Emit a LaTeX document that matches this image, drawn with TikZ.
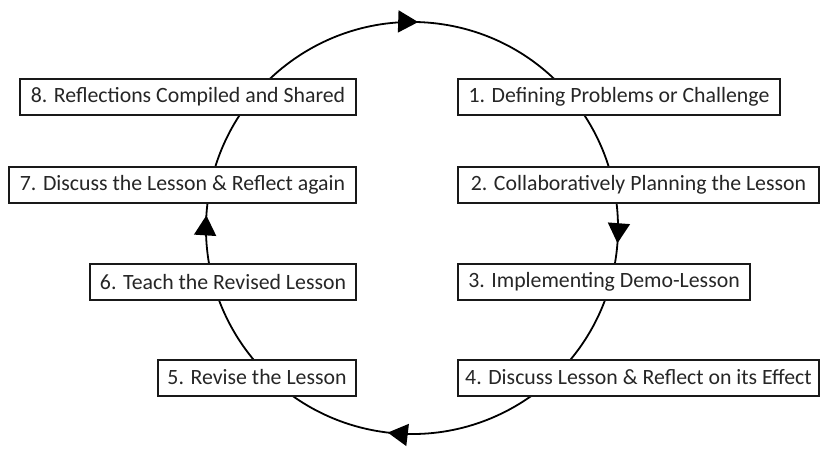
\documentclass[tikz,border=0pt]{standalone}
\usepackage{fontspec}
\setmainfont{Carlito}
\usetikzlibrary{arrows.meta,decorations.markings}
\begin{document}
\begin{tikzpicture}[x=1pt,y=1pt,
  stepbox/.style={draw=black!90,line width=2pt,fill=white,minimum height=36pt,inner sep=0pt,
    font=\fontsize{21.8}{24}\selectfont,text=black!85},
  cycle/.style={line width=1.8pt,black,
    postaction={decorate},
    decoration={markings,
      mark=at position 0.227 with {\arrow{Triangle[length=20pt,width=22pt]}},
      mark=at position 0.484 with {\arrow{Triangle[length=20pt,width=22pt]}},
      mark=at position 0.741 with {\arrow{Triangle[length=20pt,width=22pt]}},
      mark=at position 0.982 with {\arrow{Triangle[length=20pt,width=22pt]}}}}]
\useasboundingbox (0,0) rectangle (820,448);
\coordinate (c) at (412,220);
\draw[cycle] (c) ++(170:206) arc[start angle=170,end angle=-190,radius=206];
\node[stepbox,minimum width=336pt] (s8) at (188,351) {8. Reflections Compiled and Shared};
\node[stepbox,minimum width=347pt] (s7) at (182.5,263) {7. Discuss the Lesson \& Reflect again};
\node[stepbox,minimum width=266pt] (s6) at (223,166) {6. Teach the Revised Lesson};
\node[stepbox,minimum width=198pt] (s5) at (257,70.5) {5. Revise the Lesson};
\node[stepbox,minimum width=322pt] (s1) at (619,351) {1. Defining Problems or Challenge};
\node[stepbox,minimum width=361pt] (s2) at (638.5,263) {2. Collaboratively Planning the Lesson};
\node[stepbox,minimum width=292pt] (s3) at (604,166) {3. Implementing Demo-Lesson};
\node[stepbox,minimum width=361pt] (s4) at (638.5,70.5) {4. Discuss Lesson \& Reflect on its Effect};
\end{tikzpicture}
\end{document}
